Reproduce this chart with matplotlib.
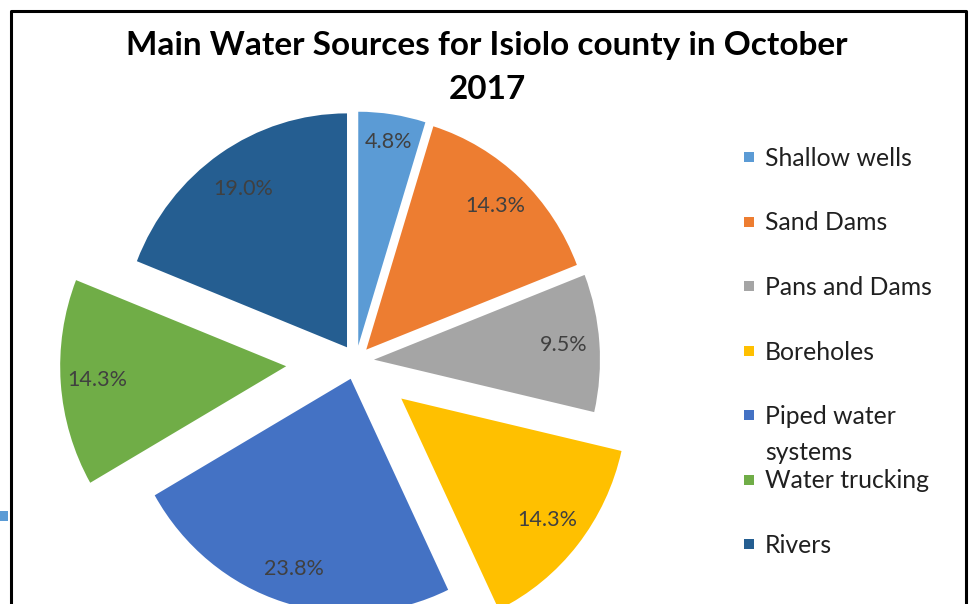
import numpy as np
import matplotlib
matplotlib.use("Agg")
import matplotlib.pyplot as plt
from matplotlib.patches import Rectangle
from matplotlib.lines import Line2D

# Data (percent of sources, clockwise from 12 o'clock)
labels = ["Shallow wells", "Sand Dams", "Pans and Dams", "Boreholes",
          "Piped water\nsystems", "Water trucking", "Rivers"]
shares = [4.8, 14.3, 9.5, 14.3, 23.8, 14.3, 19.0]
colors = ["#5B9BD5", "#ED7D31", "#A5A5A5", "#FFC000", "#4472C4", "#70AD47", "#255E91"]
title = "Main Water Sources for Isiolo county in October\n2017"

# style: explosion of each slice (px) and where the % label sits (fraction of radius)
explode = [15, 15, 18, 58, 18, 70, 16]
label_dist = [0.88, 0.84, 0.84, 0.83, 0.85, 0.84, 0.82]

W, H = 971, 604
YS = 1.035  # pie in the picture is a bit taller than wide

fig = plt.figure(figsize=(W / 100, H / 100), dpi=100)
ax = fig.add_axes([0, 0, 1, 1])

wedges, _, pcts = ax.pie(shares, explode=explode, colors=colors, radius=226,
                         center=(356, (H - 361) / YS), startangle=90,
                         counterclock=False, autopct="%.1f%%",
                         textprops=dict(color="#404040", fontsize=15.5, family="Lato"))
ax.set_aspect("auto")
ax.set_xlim(0, W)
ax.set_ylim(0, H / YS)
ax.axis("off")

# put the percentages at their own distance from each slice tip
for w, t, d in zip(wedges, pcts, label_dist):
    th = np.deg2rad((w.theta1 + w.theta2) / 2)
    cx, cy = w.center
    t.set_position((cx + d * w.r * np.cos(th), cy + d * w.r * np.sin(th)))


def fx(x):
    return x / W


def fy(y):
    return 1 - y / H


# frame of the original chart area (cut off at the bottom)
fig.add_artist(Line2D([fx(10.5), fx(10.5), fx(966), fx(966)],
                      [fy(610), fy(10.5), fy(10.5), fy(610)],
                      transform=fig.transFigure, color="black", lw=2.2))
# small blue stub left of the frame
fig.add_artist(Rectangle((fx(0), fy(521)), 8 / W, 10 / H, transform=fig.transFigure,
                         color="#5B9BD5", lw=0))

# title
fig.text(fx(487), fy(31), title, ha="center", va="top", fontsize=24,
         fontweight="bold", family="Lato", color="black", linespacing=1.62)

# legend, drawn by hand so the wrapped label keeps the tight spacing
for i, (lab, col) in enumerate(zip(labels, colors)):
    yc = 157 + i * 64.5
    fig.add_artist(Rectangle((fx(744), fy(yc + 5)), 10 / W, 10 / H,
                             transform=fig.transFigure, color=col, lw=0))
    for k, line in enumerate(lab.split("\n")):
        fig.text(fx(765), fy(yc + 9 + 36 * k), line, va="baseline",
                 fontsize=17.8, family="Lato", color="#202020")

fig.savefig("out.png", dpi=100)
